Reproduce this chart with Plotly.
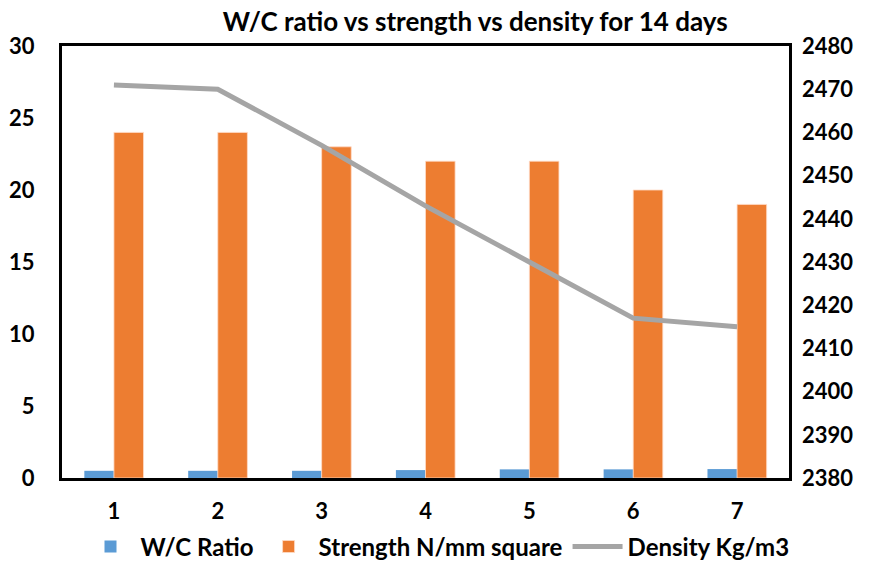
import plotly.graph_objects as go

categories = ["1", "2", "3", "4", "5", "6", "7"]
wc_ratio = [0.5, 0.5, 0.5, 0.55, 0.6, 0.6, 0.62]
strength = [24, 24, 23, 22, 22, 20, 19]
density = [2471, 2470, 2457, 2443, 2430, 2417, 2415]

FONT = "Lato"
TICK = 22
LEG = 24

fig = go.Figure()
fig.add_trace(go.Bar(x=categories, y=wc_ratio, name="<b>W/C Ratio</b>",
                     marker=dict(color="#5B9BD5", line=dict(width=0))))
fig.add_trace(go.Bar(x=categories, y=strength, name="<b>Strength N/mm square</b>",
                     marker=dict(color="#ED7D31", line=dict(color="rgba(255,220,200,0.8)", width=1))))
fig.add_trace(go.Scatter(x=categories, y=density, name="<b>Density Kg/m3</b>", yaxis="y2",
                         mode="lines", line=dict(color="#A5A5A5", width=5)))

fig.update_layout(
    width=875, height=565,
    margin=dict(l=62, r=86, t=46, b=87, autoexpand=False),
    paper_bgcolor="white", plot_bgcolor="white",
    font=dict(family=FONT, size=TICK, color="black"),
    title=dict(text="<b>W/C ratio vs strength vs density for 14 days</b>",
               x=0.543, xanchor="center", y=0.962, yanchor="middle",
               font=dict(size=26, family=FONT, color="black")),
    barmode="group", bargap=0.43, bargroupgap=0,
    showlegend=True,
    legend=dict(orientation="h", xref="container", x=0.5, xanchor="center",
                yref="container", y=0.032, yanchor="middle",
                font=dict(size=LEG, family=FONT), itemwidth=50, traceorder="normal"),
    xaxis=dict(showline=True, linecolor="black", linewidth=3, mirror=True,
               showgrid=False, ticks="", tickfont=dict(size=TICK, family=FONT),
               ticklabelstandoff=12, tickprefix="<b>", ticksuffix="</b>", automargin=False),
    yaxis=dict(range=[0, 30], dtick=5, showline=True, linecolor="black", linewidth=3,
               mirror=True, showgrid=False, zeroline=False, ticks="",
               tickfont=dict(size=TICK, family=FONT), ticklabelstandoff=20,
               tickprefix="<b>", ticksuffix="</b>", automargin=False),
    yaxis2=dict(range=[2380, 2480], dtick=10, overlaying="y", side="right",
                showgrid=False, zeroline=False, showline=False, ticks="",
                tickfont=dict(size=TICK, family=FONT), ticklabelstandoff=12,
                tickprefix="<b>", ticksuffix="</b>", automargin=False),
)

fig.write_html("out.html")
